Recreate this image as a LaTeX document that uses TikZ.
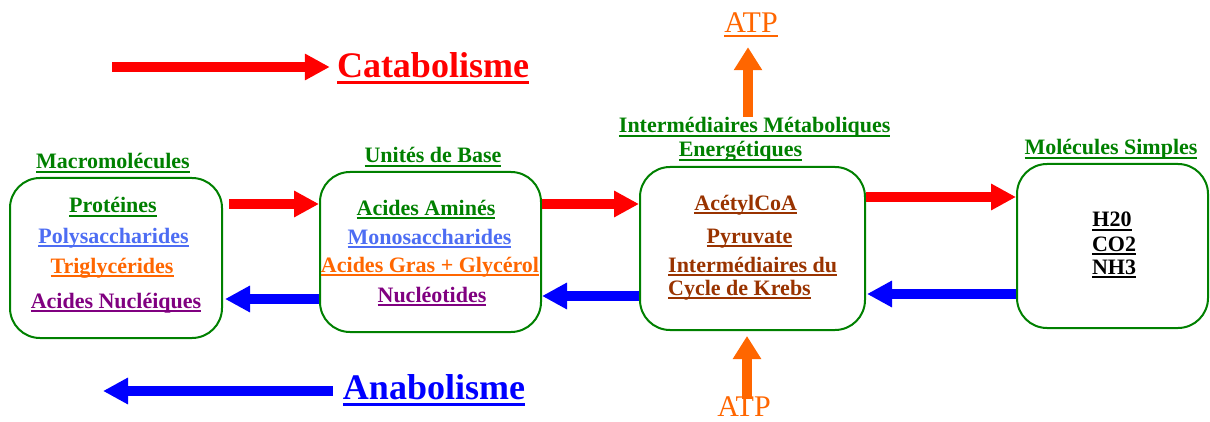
\documentclass[tikz,border=0pt]{standalone}
\usepackage{fontspec}
\setmainfont{Liberation Serif}
\usetikzlibrary{arrows.meta}
\definecolor{boxgreen}{RGB}{0,128,0}
\definecolor{polyblue}{RGB}{77,109,243}
\definecolor{trigorange}{RGB}{255,102,0}
\definecolor{nucpurple}{RGB}{128,0,128}
\definecolor{krebsbrown}{RGB}{153,51,0}
\newcommand{\ulinebox}[3]{\setbox0\hbox{#3}\rlap{\rule[-#1]{\wd0}{#2}}\box0}
\newcommand{\ulin}[1]{\ulinebox{4pt}{1.8pt}{#1}}
\newcommand{\bigulin}[1]{\ulinebox{6.5pt}{3pt}{#1}}

\begin{document}
\begin{tikzpicture}[x=1pt, y=1pt,
   every node/.style={inner sep=0pt, anchor=base, font=\fontsize{22}{26}\selectfont\bfseries},
   box/.style={draw=boxgreen, line width=2pt, rounded corners=30pt, anchor=center},
   head/.style={text=boxgreen},
   big/.style={font=\fontsize{36}{40}\selectfont\bfseries},
   atp/.style={text=trigorange, font=\fontsize{30}{34}\selectfont},
   cata/.style={draw=red, line width=10pt, -{Triangle[length=25pt,width=25pt]}},
   ana/.style={draw=blue, line width=10pt, -{Triangle[length=25pt,width=25pt]}},
   atpup/.style={draw=trigorange, line width=10pt, -{Triangle[length=23pt,width=27pt]}}]

\useasboundingbox (0,0) rectangle (1210,421);

\node[box, minimum width=212pt, minimum height=160pt] (macro) at (116,163) {};
\node[box, minimum width=221pt, minimum height=160pt] (unites) at (430.5,169) {};
\node[box, minimum width=225pt, minimum height=163pt] (inter) at (752.5,172.5) {};
\node[box, minimum width=191pt, minimum height=164pt] (simples) at (1112.5,175) {};

\node[head] (tmacro) at (113,252) {\ulin{Macromolécules}};
\node[text=boxgreen] (prot) at (113,208) {\ulin{Protéines}};
\node[text=polyblue] (poly) at (113.5,178) {\ulin{Polysaccharides}};
\node[text=trigorange] (trig) at (112,148) {\ulin{Triglycérides}};
\node[text=nucpurple] (nucl) at (116,113) {\ulin{Acides Nucléiques}};

\node[head] (tunites) at (433,258) {\ulin{Unités de Base}};
\node[text=boxgreen] (amines) at (426,206) {\ulin{Acides Aminés}};
\node[text=polyblue] (mono) at (429.5,177) {\ulin{Monosaccharides}};
\node[text=trigorange] (gras) at (430,149) {\ulin{Acides Gras + Glycérol}};
\node[text=nucpurple] (nucleo) at (432,119) {\ulin{Nucléotides}};

\node[head] (tinter) at (754.7,288) {\ulin{Intermédiaires Métaboliques}};
\node[head] (tenerg) at (740.5,264) {\ulin{Energétiques}};
\node[text=krebsbrown] (acetyl) at (745.8,211) {\ulin{AcétylCoA}};
\node[text=krebsbrown] (pyru) at (749.5,178) {\ulin{Pyruvate}};
\node[text=krebsbrown, anchor=base west] (krebsa) at (668,149) {\ulin{Intermédiaires du}};
\node[text=krebsbrown, anchor=base west] (krebsb) at (668,126) {\ulin{Cycle de Krebs}};

\node[head] (tsimples) at (1111,266) {\ulin{Molécules Simples}};
\node (hdeux) at (1112,194) {\ulin{H20}};
\node (codeux) at (1114,170) {\ulin{CO2}};
\node (nhtrois) at (1114,147) {\ulin{NH3}};

\node[big, text=red] (catab) at (433,343) {\bigulin{Catabolisme}};
\node[big, text=blue] (anab) at (434,22) {\bigulin{Anabolisme}};
\coordinate (catastart) at (112,354);
\coordinate (anaend) at (103,30);
\draw[cata] (catastart) -- ([xshift=-7pt]catab.west |- catastart);
\draw[ana] ([xshift=-10pt]anab.west |- anaend) -- (anaend);

\draw[cata] ([xshift=6pt,yshift=54pt]macro.east) -- ([yshift=48pt]unites.west);
\draw[cata] ([yshift=48pt]unites.east) -- ([yshift=44.5pt]inter.west);
\draw[cata] ([yshift=51.5pt]inter.east) -- ([yshift=49pt]simples.west);
\draw[ana] ([yshift=-48pt]simples.west) -- ([xshift=1pt,yshift=-45.5pt]inter.east);
\draw[ana] ([yshift=-47.5pt]inter.west) -- ([yshift=-44pt]unites.east);
\draw[ana] ([yshift=-47pt]unites.west) -- ([xshift=2pt,yshift=-41pt]macro.east);

\node[atp] (atptop) at (751,388) {\ulin{ATP}};
\node[atp] (atpbot) at (744,5) {ATP};
\coordinate (atpfoot) at (748,304);
\draw[atpup] (atpfoot) -- ([xshift=-3pt,yshift=-10pt]atptop.south);
\draw[atpup] ([xshift=3pt,yshift=-3pt]atpbot.north) -- ([xshift=-5.5pt,yshift=-5pt]inter.south);

\end{tikzpicture}
\end{document}
